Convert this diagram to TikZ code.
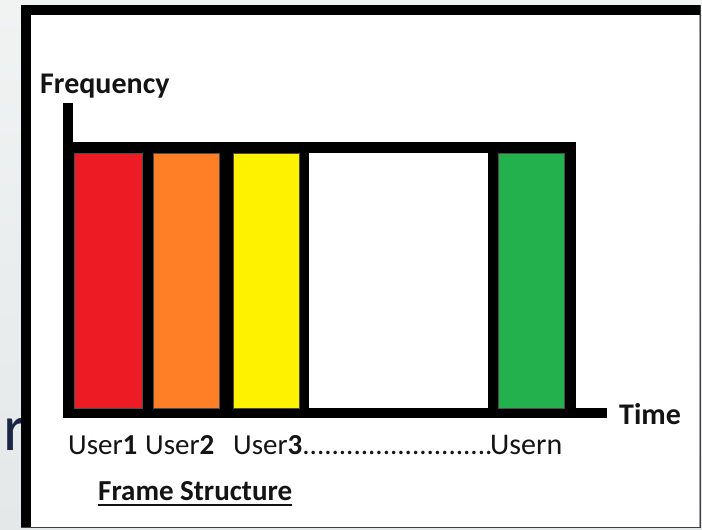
\documentclass[tikz,border=0pt]{standalone}
\usepackage{fontspec}
\setmainfont{Carlito}
\definecolor{slidetop}{HTML}{F1F3F3}
\definecolor{slidebot}{HTML}{E4E8E9}
\definecolor{slidetext}{HTML}{1B2642}
\definecolor{boxedge}{HTML}{A0A0A0}
\definecolor{ured}{HTML}{ED1C24}
\definecolor{uorange}{HTML}{FF7F27}
\definecolor{uyellow}{HTML}{FFF200}
\definecolor{ugreen}{HTML}{22B14C}
\definecolor{inkcol}{HTML}{141414}
\tikzset{
  lbl/.style={inner sep=0pt, anchor=base west, text=inkcol},
  axislbl/.style={lbl, font=\fontsize{30}{33}\selectfont\bfseries},
  userlbl/.style={lbl, font=\fontsize{29}{32}\selectfont},
  slot/.style={draw=black!70, line width=0.6pt}
}
\begin{document}
\begin{tikzpicture}[x=1pt, y=-1pt]
  \useasboundingbox (0,0) rectangle (702,530);
  % slide background with a stray letter of the slide text
  \shade[top color=slidetop, bottom color=slidebot] (0,0) rectangle (702,530);
  \node[lbl, text=slidetext, font=\fontsize{66}{72}\selectfont] (slider) at (3,450) {r};
  % white panel with heavy left and top edges
  \filldraw[fill=white, draw=boxedge, line width=0.6pt] (21,5) rectangle (699.5,527);
  \draw[black!75, line width=0.6pt] (21,527.6) -- (700.1,527.6) -- (700.1,5);
  \fill[black] (21,5) rectangle (31,527);
  \fill[black] (21,5) rectangle (699.5,15);
  % frame outline and axes
  \fill[black] (63,142) rectangle (576,418);
  \fill[black] (63,103) rectangle (73,142);
  \fill[black] (576,408) rectangle (607,418);
  % time slots
  \filldraw[slot, fill=ured]    (74,153)  rectangle (142,408);
  \filldraw[slot, fill=uorange] (153,153) rectangle (219,408);
  \filldraw[slot, fill=uyellow] (233,153) rectangle (299,408);
  \fill[white]                  (309,153) rectangle (488,408);
  \filldraw[slot, fill=ugreen]  (498,153) rectangle (564,408);
  % axis labels
  \node[axislbl] (freq) at (40,93) {Frequency};
  \node[axislbl] (time) at (619,424) {Time};
  % slot labels
  \node[userlbl] (u1) at (68,454) {User\textbf{1}};
  \node[userlbl] (u2) at (145,454) {User\textbf{2}};
  \node[userlbl] (u3) at (233,454) {User\textbf{3}..........................};
  \node[userlbl, font=\fontsize{30}{33}\selectfont] (un) at (490,454) {Usern};
  % caption
  \node[lbl, font=\fontsize{29}{32}\selectfont\bfseries] (cap) at (98,500) {Frame Structure};
  \draw[inkcol, line width=2pt] ([yshift=-4.5pt]cap.base west) -- ([yshift=-4.5pt]cap.base east);
\end{tikzpicture}
\end{document}
